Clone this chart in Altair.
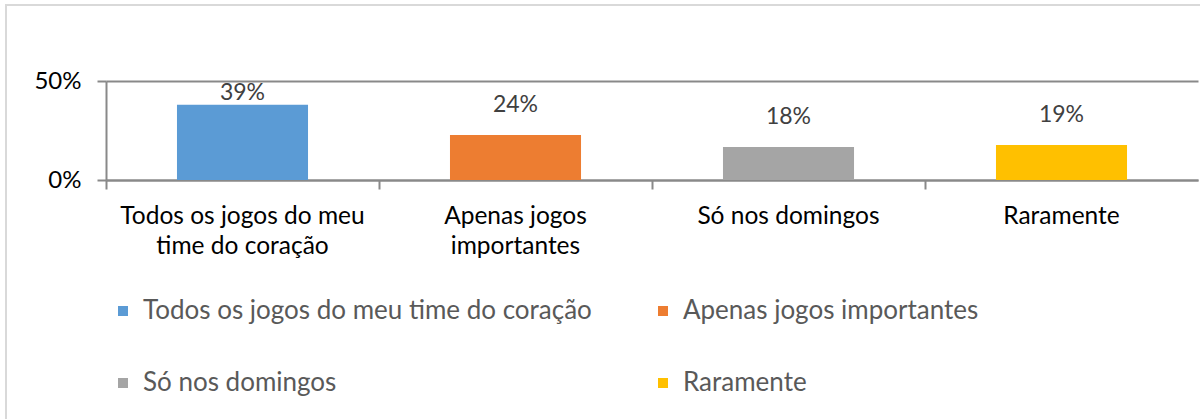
import altair as alt
import pandas as pd

categories = ["Todos os jogos do meu time do coração", "Apenas jogos importantes",
              "Só nos domingos", "Raramente"]
axis_lines = [["Todos os jogos do meu", "time do coração"], ["Apenas jogos", "importantes"],
              ["Só nos domingos"], ["Raramente"]]
values = [0.38, 0.227, 0.167, 0.177]
labels = ["39%", "24%", "18%", "19%"]
colors = ["#5B9BD5", "#ED7D31", "#A5A5A5", "#FFC000"]

df = pd.DataFrame({"cat": categories, "value": values, "label": labels})

FONT = "Lato"
label_expr = " : ".join(
    [f"datum.label == '{c}' ? {lines!r}" for c, lines in zip(categories, axis_lines)]
) + " : datum.label"

x_enc = alt.X("cat:N", sort=categories, scale=alt.Scale(paddingInner=0, paddingOuter=0),
              axis=alt.Axis(title=None, labelAngle=0, bandPosition=0, labelExpr=label_expr,
                            labelFont=FONT, labelFontSize=24.5, labelColor="#000000",
                            labelLineHeight=30, labelPadding=15, labelLimit=400,
                            domainColor="#898989", domainWidth=2,
                            tickColor="#898989", tickWidth=2, tickSize=9, grid=False))

y_scale = alt.Scale(domain=[0, 0.5])

bars = alt.Chart(df).mark_bar(width=alt.RelativeBandSize(0.48)).encode(
    x=x_enc,
    y=alt.Y("value:Q", scale=y_scale,
            axis=alt.Axis(title=None, values=[0, 0.5], format="%", labelFont=FONT,
                          labelFontSize=24, labelColor="#000000", labelPadding=16,
                          domainColor="#898989", domainWidth=2, tickColor="#898989",
                          tickWidth=2, tickSize=9, grid=True, gridColor="#898989",
                          gridWidth=2, gridOpacity=1)),
    color=alt.Color("cat:N", sort=categories,
                    scale=alt.Scale(domain=categories, range=colors),
                    legend=alt.Legend(title=None, orient="none", legendX=4, legendY=217,
                                      direction="horizontal",
                                      columns=2, gridAlign="all", columnPadding=58,
                                      rowPadding=46, symbolType="square", symbolSize=100,
                                      symbolStrokeWidth=0, labelFont=FONT, labelFontSize=26,
                                      labelColor="#595959", labelOffset=7, labelLimit=1000,
                                      padding=0)),
)

texts = alt.Chart(df).transform_calculate(
    ly="min(datum.value + 0.152, 0.44)"
).mark_text(font=FONT, fontSize=23, color="#404040", baseline="middle").encode(
    x=alt.X("cat:N", sort=categories),
    y=alt.Y("ly:Q", scale=y_scale),
    text="label:N",
)

frame = alt.Chart(df).mark_rect(fill=None, stroke="#d9d9d9", strokeWidth=2).encode(
    x=alt.value(-100), x2=alt.value(1300), y=alt.value(-76), y2=alt.value(500)
)

chart = alt.layer(frame, bars, texts).properties(
    width=1092, height=99,
    autosize=alt.AutoSizeParams(type="none"),
    padding={"left": 106, "top": 81, "right": 2, "bottom": 239},
    background="white",
).configure_view(stroke=None)

chart.save("out.html", embed_options={"renderer": "svg", "actions": False})
